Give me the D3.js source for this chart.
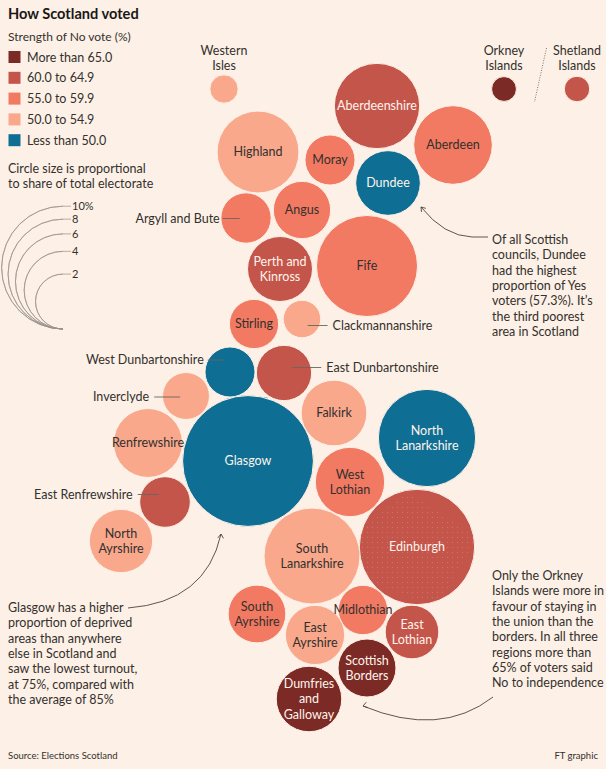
<!DOCTYPE html>
<html>
<head>
<meta charset="utf-8">
<script src="https://cdn.jsdelivr.net/npm/d3@7"></script>
<style>
  html, body { margin: 0; padding: 0; background: #fdf0e6; }
  svg { display: block; font-family: Lato, "Open Sans", sans-serif; }
</style>
</head>
<body>
<svg id="chart" width="606" height="769"></svg>
<script>
// ---------------- DATA ----------------
const councils = [
  "Western Isles","Orkney Islands","Shetland Islands","Aberdeenshire","Aberdeen","Highland","Moray","Dundee",
  "Argyll and Bute","Angus","Perth and Kinross","Fife","Stirling","Clackmannanshire","West Dunbartonshire",
  "East Dunbartonshire","Inverclyde","Falkirk","North Lanarkshire","Renfrewshire","Glasgow","West Lothian",
  "East Renfrewshire","North Ayrshire","South Lanarkshire","Edinburgh","South Ayrshire","Midlothian",
  "East Ayrshire","East Lothian","Scottish Borders","Dumfries and Galloway"
];
// share of total electorate (%)
const electorateShare = [0.53,0.41,0.43,4.82,4.10,4.45,1.66,2.77,1.68,2.18,2.80,6.77,1.61,0.93,1.66,2.03,1.46,2.86,6.27,3.15,11.35,3.19,1.70,2.66,6.10,8.82,2.21,1.62,2.33,1.91,2.23,2.85];
// No vote (%)
const noVote = [53.4,67.2,63.7,60.4,58.6,52.9,57.6,42.7,58.5,56.3,60.2,55.1,59.8,53.8,46.0,61.2,50.1,53.5,48.9,52.8,46.5,55.2,63.2,51.0,54.7,61.1,57.9,56.3,52.8,61.7,66.6,65.7];
// stylised map layout position (layout units)
const layoutX = [22.4,50.4,57.7,37.7,45.3,25.8,33.0,38.8,24.6,30.2,28.0,36.7,25.4,30.2,23.0,28.4,18.6,33.4,42.7,14.8,24.8,35.0,16.5,12.1,31.2,41.7,25.7,36.3,31.5,41.2,36.7,30.9];
const layoutY = [8.9,8.9,8.9,10.6,14.5,15.2,16.0,18.3,21.8,21.0,26.9,26.6,32.4,31.9,37.2,37.3,39.6,41.3,43.8,44.3,46.1,48.2,50.2,54.1,55.6,54.7,61.4,61.0,63.5,63.2,66.8,69.9];
// legend
const bandLabels = ["More than 65.0","60.0 to 64.9","55.0 to 59.9","50.0 to 54.9","Less than 50.0"];
const bandThresholds = [50, 55, 60, 65];
const bandColors = ["#0e6e93","#f9a88c","#f27a62","#c4554a","#7b2a26"]; // low -> high
const sizeLegendValues = [10, 8, 6, 4, 2];
const sizeLegendLabels = ["10%","8","6","4","2"];

// ---------------- SCALES ----------------
const svg = d3.select("#chart");
const W = 606, H = 769;
svg.append("rect").attr("width", W).attr("height", H).attr("fill", "#fdf0e6");

const x = d3.scaleLinear().domain([0, 60.6]).range([0, 606]);
const y = d3.scaleLinear().domain([0, 76.9]).range([0, 769]);
const r = d3.scaleSqrt().domain([0, 10]).range([0, 61.4]);
const color = d3.scaleThreshold().domain(bandThresholds).range(bandColors);
const darkText = "#33302e", lightText = "#fff4ec";
const textColor = v => v < 50 || v >= 60 ? lightText : darkText;

const data = councils.map((name, i) => ({
  name, share: electorateShare[i], no: noVote[i], cx: x(layoutX[i]), cy: y(layoutY[i])
}));

// ---------------- TITLE & LEGEND ----------------
svg.append("text").attr("x", 8).attr("y", 19).text("How Scotland voted")
  .attr("font-size", 14.6).attr("font-weight", 700).attr("fill", "#1a1817");
svg.append("text").attr("x", 8).attr("y", 41).text("Strength of No vote (%)")
  .attr("font-size", 12).attr("fill", darkText);

const legendColors = bandColors.slice().reverse();
const lg = svg.append("g");
bandLabels.forEach((lab, i) => {
  const yy = 57 + i * 20.8;
  lg.append("rect").attr("x", 8.5).attr("y", yy - 6).attr("width", 12).attr("height", 12).attr("fill", legendColors[i]);
  lg.append("text").attr("x", 27).attr("y", yy + 4.5).text(lab).attr("font-size", 12.5).attr("fill", darkText);
});

svg.append("text").attr("x", 8).attr("y", 173).text("Circle size is proportional").attr("font-size", 12.5).attr("fill", darkText);
svg.append("text").attr("x", 8).attr("y", 188).text("to share of total electorate").attr("font-size", 12.5).attr("fill", darkText);

// size legend (left half circles, tangent at bottom)
const slx = 63, sly = 329;
const sl = svg.append("g");
sizeLegendValues.forEach((v, i) => {
  const rr = r(v);
  const cy0 = sly - rr;
  const arc = d3.arc().innerRadius(rr).outerRadius(rr).startAngle(Math.PI).endAngle(2 * Math.PI);
  sl.append("path").attr("transform", `translate(${slx},${cy0})`).attr("d", arc())
    .attr("fill", "none").attr("stroke", "#9a928c").attr("stroke-width", 0.7);
  sl.append("line").attr("x1", slx).attr("x2", slx + 8).attr("y1", sly - 2 * rr).attr("y2", sly - 2 * rr)
    .attr("stroke", "#9a928c").attr("stroke-width", 0.7);
  sl.append("text").attr("x", slx + 9).attr("y", sly - 2 * rr + 4).text(sizeLegendLabels[i])
    .attr("font-size", 11).attr("fill", darkText);
});

// ---------------- PATTERN FOR EDINBURGH ----------------
const defs = svg.append("defs");
const pat = defs.append("pattern").attr("id", "dots").attr("width", 5).attr("height", 5).attr("patternUnits", "userSpaceOnUse");
pat.append("circle").attr("cx", 2.5).attr("cy", 2.5).attr("r", 0.55).attr("fill", "#f3a08f").attr("opacity", 0.45);

// ---------------- CIRCLES ----------------
const g = svg.append("g");
g.selectAll("circle.c").data(data).join("circle").attr("class", "c")
  .attr("cx", d => d.cx).attr("cy", d => d.cy).attr("r", d => r(d.share))
  .attr("fill", d => color(d.no)).attr("stroke", "#fdf0e6").attr("stroke-width", 1);

const edi = data.find(d => d.name === "Edinburgh");
defs.append("clipPath").attr("id", "ediClip").append("circle").attr("cx", edi.cx).attr("cy", edi.cy).attr("r", r(edi.share) - 1);
g.append("path").attr("clip-path", "url(#ediClip)")
  .attr("d", `M${edi.cx - 10},${edi.cy - 55} L${edi.cx + 60},${edi.cy - 10} L${edi.cx + 20},${edi.cy + 60} L${edi.cx - 60},${edi.cy + 30} L${edi.cx - 55},${edi.cy - 20} Z`)
  .attr("fill", "url(#dots)");

// ---------------- LABELS ----------------
const inside = {
  "Aberdeenshire": ["Aberdeenshire"], "Aberdeen": ["Aberdeen"], "Highland": ["Highland"], "Moray": ["Moray"],
  "Dundee": ["Dundee"], "Angus": ["Angus"], "Perth and Kinross": ["Perth and","Kinross"], "Fife": ["Fife"],
  "Stirling": ["Stirling"], "Falkirk": ["Falkirk"], "North Lanarkshire": ["North","Lanarkshire"],
  "Renfrewshire": ["Renfrewshire"], "Glasgow": ["Glasgow"], "West Lothian": ["West","Lothian"],
  "North Ayrshire": ["North","Ayrshire"], "South Lanarkshire": ["South","Lanarkshire"], "Edinburgh": ["Edinburgh"],
  "South Ayrshire": ["South","Ayrshire"], "Midlothian": ["Midlothian"], "East Ayrshire": ["East","Ayrshire"],
  "East Lothian": ["East","Lothian"], "Scottish Borders": ["Scottish","Borders"],
  "Dumfries and Galloway": ["Dumfries","and","Galloway"]
};
const lh = 15.3;
data.forEach(d => {
  const lines = inside[d.name];
  if (!lines) return;
  const t = g.append("text").attr("text-anchor", "middle").attr("font-size", 12.5).attr("fill", textColor(d.no));
  lines.forEach((ln, j) => {
    t.append("tspan").attr("x", d.cx).attr("y", d.cy + 4.3 + (j - (lines.length - 1) / 2) * lh).text(ln);
  });
});

// outside labels with leader lines
const leaderColor = "#6b6560";
function leader(name, side, dy, len, gap) {
  const d = data.find(e => e.name === name);
  const rr = r(d.share);
  const ly = d.cy + dy;
  if (side === "left") {
    const x2 = d.cx - rr * 0.25, x1 = x2 - len;
    g.append("line").attr("x1", x1).attr("x2", x2).attr("y1", ly).attr("y2", ly).attr("stroke", leaderColor).attr("stroke-width", 0.9);
    g.append("text").attr("x", x1 - gap).attr("y", ly + 4.3).attr("text-anchor", "end").attr("font-size", 12.5).attr("fill", darkText).text(name);
  } else {
    const x1 = d.cx + rr * 0.3, x2 = x1 + len;
    g.append("line").attr("x1", x1).attr("x2", x2).attr("y1", ly).attr("y2", ly).attr("stroke", leaderColor).attr("stroke-width", 0.9);
    g.append("text").attr("x", x2 + gap).attr("y", ly + 4.3).attr("font-size", 12.5).attr("fill", darkText).text(name);
  }
}
leader("Argyll and Bute", "left", 0.5, 17, 3);
leader("Clackmannanshire", "right", 6.5, 20, 5);
leader("West Dunbartonshire", "left", -12, 16, 4);
leader("East Dunbartonshire", "right", -5.5, 29, 5);
leader("Inverclyde", "left", 1, 26, 5);
leader("East Renfrewshire", "left", -7.5, 21, 5);

// labels above (islands)
[["Western Isles", ["Western","Isles"]], ["Orkney Islands", ["Orkney","Islands"]], ["Shetland Islands", ["Shetland","Islands"]]]
  .forEach(([name, lines]) => {
    const d = data.find(e => e.name === name);
    const t = g.append("text").attr("text-anchor", "middle").attr("font-size", 12.5).attr("fill", darkText);
    lines.forEach((ln, j) => t.append("tspan").attr("x", d.cx).attr("y", d.cy - 34 + j * 15.3).text(ln));
  });
// divider between Orkney & Shetland
const ork = data.find(e => e.name === "Orkney Islands"), she = data.find(e => e.name === "Shetland Islands");
const mx = (ork.cx + she.cx) / 2;
g.append("line").attr("x1", mx + 6).attr("y1", 48).attr("x2", mx - 6).attr("y2", 102)
  .attr("stroke", "#6b6560").attr("stroke-width", 0.9).attr("stroke-dasharray", "1,1.5");

// ---------------- ANNOTATIONS ----------------
const annStyle = t => t.attr("font-size", 12.5).attr("fill", darkText);
function para(xp, y0, lines) {
  const t = svg.append("text").call(annStyle);
  lines.forEach((ln, j) => t.append("tspan").attr("x", xp).attr("y", y0 + j * 15.35).text(ln));
}
para(492, 244, ["Of all Scottish","councils, Dundee","had the highest","proportion of Yes","voters (57.3%). It’s","the third poorest","area in Scotland"]);
para(8, 612, ["Glasgow has a higher","proportion of deprived","areas than anywhere","else in Scotland and","saw the lowest turnout,","at 75%, compared with","the average of 85%"]);
para(492, 580, ["Only the Orkney","Islands were more in","favour of staying in","the union than the","borders. In all three","regions more than","65% of voters said","No to independence"]);

function arrow(pathD, tipX, tipY, ang) {
  svg.append("path").attr("d", pathD).attr("fill", "none").attr("stroke", "#4a4542").attr("stroke-width", 0.9);
  const a = ang * Math.PI / 180, s = 5, spread = 0.6;
  const p1 = [tipX + s * Math.cos(a + spread), tipY + s * Math.sin(a + spread)];
  const p2 = [tipX + s * Math.cos(a - spread), tipY + s * Math.sin(a - spread)];
  svg.append("path").attr("d", `M${p1[0]},${p1[1]} L${tipX},${tipY} L${p2[0]},${p2[1]}`)
    .attr("fill", "none").attr("stroke", "#4a4542").attr("stroke-width", 0.9);
}
arrow("M488,237 L472,237 Q444,236 421,207", 421, 207, 50);
arrow("M128,608 Q206,602 221,534", 221, 534, 95);
arrow("M493,697 Q440,738 363,706", 363, 706, -15);

// ---------------- FOOTER ----------------
svg.append("text").attr("x", 8).attr("y", 759).text("Source: Elections Scotland").attr("font-size", 9.5).attr("fill", darkText);
svg.append("text").attr("x", 598).attr("y", 759).attr("text-anchor", "end").text("FT graphic").attr("font-size", 9.5).attr("fill", darkText);
</script>
</body>
</html>
